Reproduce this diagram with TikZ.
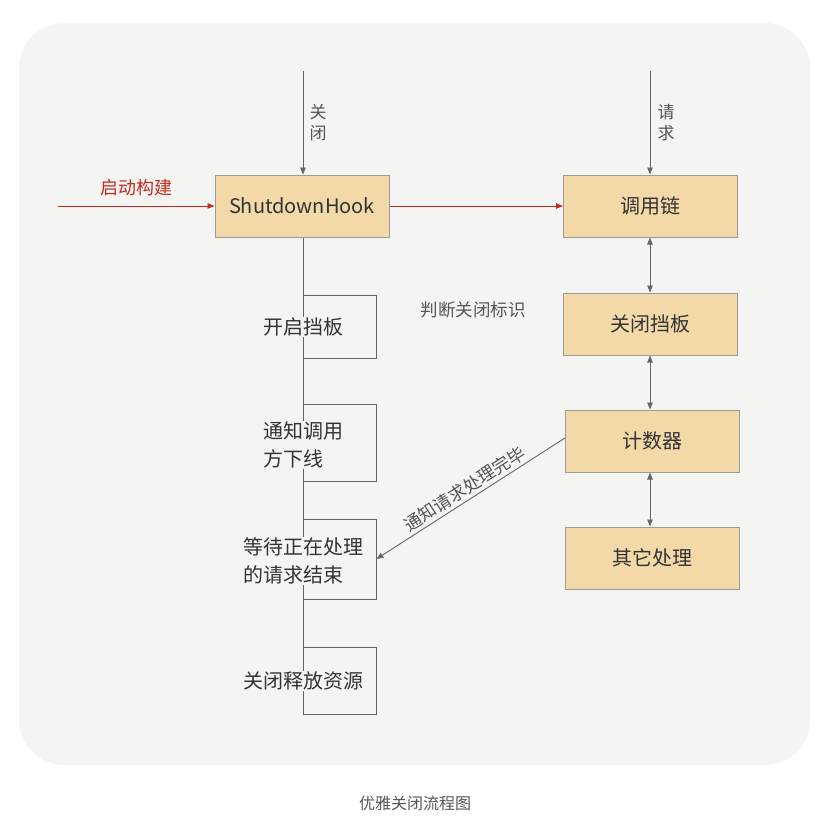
\documentclass[tikz,border=0pt]{standalone}
\usepackage{fontspec}
\setmainfont{Noto Sans CJK SC}
\usetikzlibrary{arrows.meta}
\definecolor{bgc}{HTML}{F4F4F3}
\definecolor{boxfill}{HTML}{F3D9A8}
\definecolor{boxline}{HTML}{9B9B9B}
\definecolor{lnc}{HTML}{666666}
\definecolor{txtc}{HTML}{333333}
\definecolor{lblc}{HTML}{555555}
\definecolor{myred}{HTML}{C42B1C}
\tikzset{
  ybox/.style={draw=boxline, fill=boxfill, line width=1pt, minimum width=174pt, minimum height=62pt, inner sep=0pt, text=txtc, font=\fontsize{20}{24}\selectfont},
  obox/.style={draw=lnc, line width=0.9pt, inner sep=0pt},
  ltext/.style={fill=bgc, inner sep=1pt, text=txtc, align=left, font=\fontsize{20}{28}\selectfont},
  lbl/.style={text=lblc, inner sep=0pt, font=\fontsize{17}{21}\selectfont, align=center},
  arr/.style={draw=lnc, line width=0.9pt, -{Triangle[length=7pt,width=5.5pt]}},
  darr/.style={draw=lnc, line width=0.9pt, {Triangle[length=7pt,width=5.5pt]}-{Triangle[length=7pt,width=5.5pt]}},
  redarr/.style={draw=myred, line width=0.9pt, -{Triangle[length=7pt,width=5.5pt]}}
}
\begin{document}
\begin{tikzpicture}[x=1pt,y=-1pt]
\useasboundingbox (0,0) rectangle (822,817);
\fill[white] (0,0) rectangle (822,817);
\fill[bgc, rounded corners=45pt] (19,23) rectangle (810,765);

% right column boxes
\node[ybox] (sh) at (302,206) {ShutdownHook};
\node[ybox] (call) at (650.5,206) {调用链};
\node[ybox] (gate) at (650.5,324) {关闭挡板};
\node[ybox] (cnt) at (652,441) {计数器};
\node[ybox] (other) at (652,558) {其它处理};

% top inputs
\coordinate (t1) at (303,71);
\coordinate (t2) at (650,71);
\draw[arr] (t1) -- (t1 |- sh.north);
\draw[arr] (t2) -- (t2 |- call.north);
\node[lbl] (l1) at (318,122.5) {关\\闭};
\node[lbl] (l2) at (666,122.5) {请\\求};

% red arrows
\coordinate (rs) at (58,206);
\draw[redarr] (rs) -- (sh.west);
\draw[redarr] (sh.east) -- (call.west);
\node[text=myred, inner sep=0pt, font=\fontsize{18}{22}\selectfont] (start) at (136,188) {启动构建};

% double arrows on right
\draw[darr] (t2 |- call.south) -- (t2 |- gate.north);
\draw[darr] (t2 |- gate.south) -- (t2 |- cnt.north);
\draw[darr] (t2 |- cnt.south) -- (t2 |- other.north);

\node[lbl, font=\fontsize{17.5}{21}\selectfont] (judge) at (473,310) {判断关闭标识};

% left column
\coordinate (lb) at (303,714);
\draw[draw=lnc, line width=0.9pt] (t1 |- sh.south) -- (lb);
\node[obox, minimum width=73pt, minimum height=63pt] (r1) at (339.5,326.5) {};
\node[obox, minimum width=73pt, minimum height=77pt] (r2) at (339.5,442.5) {};
\node[obox, minimum width=73pt, minimum height=80pt] (r3) at (339.5,559) {};
\node[obox, minimum width=73pt, minimum height=67pt] (r4) at (339.5,680.5) {};

\node[ltext] (s1) at (303,327) {开启挡板};
\node[ltext] (s2) at (303,445) {通知调用\\方下线};
\node[ltext] (s3) at (303,561) {等待正在处理\\的请求结束};
\node[ltext] (s4) at (303,681) {关闭释放资源};

% diagonal notification
\coordinate (cw) at (565,438);
\draw[arr] (cw) -- (r3.east) node[midway, sloped, above=3pt, text=lblc, inner sep=0pt, font=\fontsize{17.5}{21}\selectfont] {通知请求处理完毕};

% caption
\node[text=lblc, inner sep=0pt, font=\fontsize{16}{20}\selectfont] (cap) at (415,803) {优雅关闭流程图};
\end{tikzpicture}
\end{document}
